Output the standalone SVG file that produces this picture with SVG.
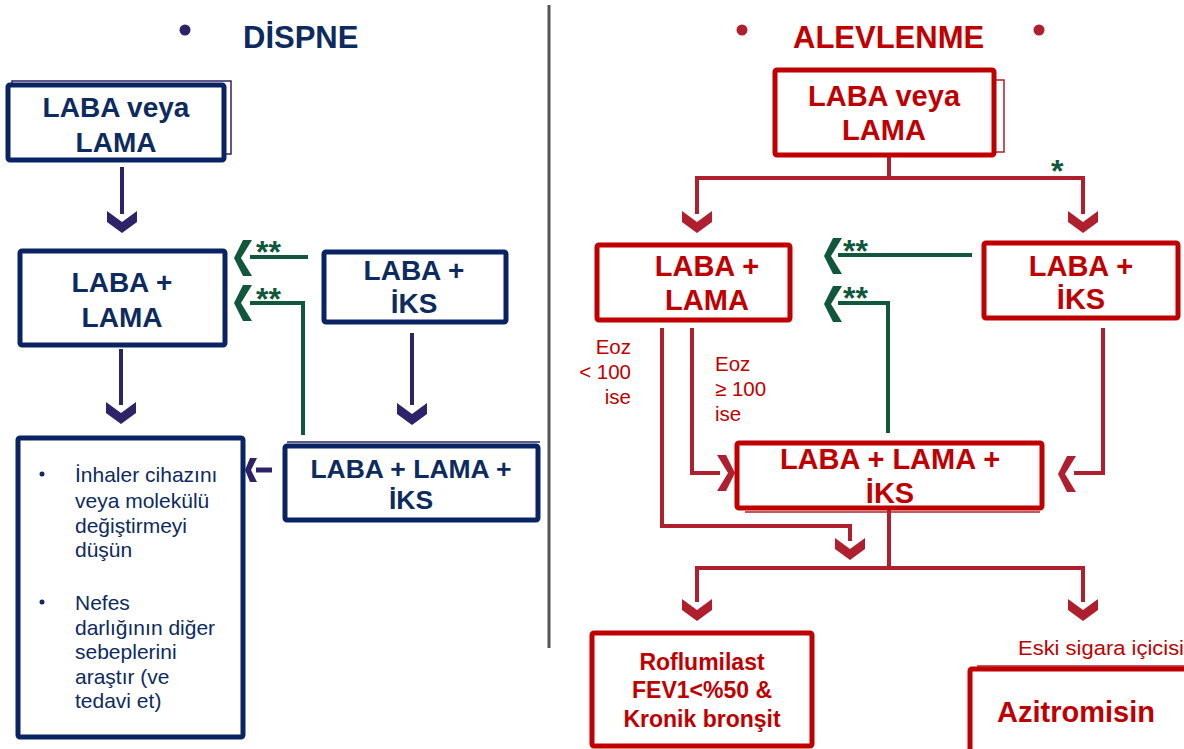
<svg xmlns="http://www.w3.org/2000/svg" width="1184" height="749" viewBox="0 0 1184 749">
<style>
.bx{fill:#fff;stroke:#0a2463;stroke-width:5}
.rbx{fill:#fff;stroke:#c00000;stroke-width:5}
.sh{fill:none;stroke:#2e2268;stroke-width:1.5}
.rsh{fill:none;stroke:#b01f2e;stroke-width:1.5}
.t{font-family:"Liberation Sans",Arial,sans-serif;font-weight:bold;fill:#0d2b5e;text-anchor:middle}
.rt{font-family:"Liberation Sans",Arial,sans-serif;font-weight:bold;fill:#c00000;text-anchor:middle}
.n{font-family:"Liberation Sans",Arial,sans-serif;fill:#0d2b5e;font-size:21px}
.rn{font-family:"Liberation Sans",Arial,sans-serif;fill:#c00000;font-size:20.5px}
.pl{fill:none;stroke:#2e2268;stroke-width:4}
.gl{fill:none;stroke:#11573c;stroke-width:4}
.rl{fill:none;stroke:#b01f2e;stroke-width:4}
.pc{fill:#2e2268}
.gc{fill:#11573c}
.rc{fill:#b01f2e}
.st{font-family:"Liberation Sans",Arial,sans-serif;font-weight:bold;fill:#11573c;font-size:32px}
</style>
<defs>
<path id="dn" d="M-15,-11 L0,0 L15,-11 L15,0 L0,11 L-15,0 Z"/>
<path id="lf" d="M6,-18 L15,-18 L4,0 L15,18 L6,18 L-3,0 Z"/>
<path id="rt" d="M-6,-18 L-15,-18 L-4,0 L-15,18 L-6,18 L3,0 Z"/>
</defs>

<!-- titles -->
<g id="title-left">
<circle cx="185" cy="30" r="5.5" fill="#2e2268"/>
<text x="243" y="48" font-family="Liberation Sans,Arial,sans-serif" font-weight="bold" font-size="31" fill="#0d2b5e">DİSPNE</text>
</g>
<g id="title-right">
<circle cx="742" cy="30" r="5.5" fill="#b01f2e"/>
<circle cx="1039" cy="30" r="5.5" fill="#b01f2e"/>
<text x="793" y="48" font-family="Liberation Sans,Arial,sans-serif" font-weight="bold" font-size="31" fill="#c00000">ALEVLENME</text>
</g>

<line x1="549" y1="5" x2="549" y2="648" stroke="#555" stroke-width="3"/>

<!-- connectors -->
<g id="connectors">
<!-- left -->
<line class="pl" x1="122" y1="167" x2="122" y2="214"/>
<use href="#dn" class="pc" x="122" y="222"/>
<line class="pl" x1="121" y1="349" x2="121" y2="405"/>
<use href="#dn" class="pc" x="121" y="413"/>
<line class="pl" x1="412" y1="333" x2="412" y2="405"/>
<use href="#dn" class="pc" x="412" y="414"/>
<path class="pc" d="M250,458 L257,458 L251,470 L257,482 L250,482 L245,470 Z"/>
<line x1="256" y1="470" x2="272" y2="470" stroke="#2e2268" stroke-width="5"/>
<line class="gl" x1="250" y1="257" x2="308" y2="257"/>
<use href="#lf" class="gc" x="237" y="258"/>
<text class="st" x="256" y="263">**</text>
<polyline class="gl" points="250,303 303,303 303,435"/>
<use href="#lf" class="gc" x="237" y="303"/>
<text class="st" x="256" y="310">**</text>

<!-- right -->
<polyline class="rl" points="889,157 889,178"/>
<polyline class="rl" points="697,214 697,178 1083,178 1083,214"/>
<use href="#dn" class="rc" x="697" y="222"/>
<use href="#dn" class="rc" x="1083" y="222"/>
<text class="st" x="1051" y="182" font-size="28">*</text>
<line class="gl" x1="838" y1="255" x2="972" y2="255"/>
<use href="#lf" class="gc" x="827" y="256"/>
<text class="st" x="843" y="262">**</text>
<polyline class="gl" points="838,303 888,303 888,433"/>
<use href="#lf" class="gc" x="827" y="304"/>
<text class="st" x="843" y="309">**</text>
<polyline class="rl" points="662,328 662,526 850,526 850,541"/>
<use href="#dn" class="rc" x="850" y="549"/>
<polyline class="rl" points="692,328 692,473 720,473"/>
<use href="#rt" class="rc" x="732" y="473"/>
<polyline class="rl" points="1103,328 1103,473 1074,473"/>
<use href="#lf" class="rc" x="1061" y="474"/>
<polyline class="rl" points="889,510 889,568"/>
<polyline class="rl" points="697,602 697,568 1083,568 1083,602"/>
<use href="#dn" class="rc" x="697" y="610"/>
<use href="#dn" class="rc" x="1083" y="610"/>
</g>

<!-- left nodes -->
<g id="l-laba-veya-lama">
<rect class="sh" x="12" y="81" width="219" height="73"/>
<rect class="bx" x="8" y="85" width="216" height="75" rx="2"/>
<text class="t" x="116" y="117" font-size="28">LABA veya</text>
<text class="t" x="116" y="152" font-size="28">LAMA</text>
</g>
<g id="l-laba-lama">
<rect class="bx" x="20" y="251" width="205" height="94" rx="2"/>
<text class="t" x="122" y="292" font-size="28">LABA +</text>
<text class="t" x="122" y="327" font-size="28">LAMA</text>
</g>
<g id="l-laba-iks">
<rect class="bx" x="324" y="252" width="182" height="70" rx="2"/>
<text class="t" x="414" y="280" font-size="28">LABA +</text>
<text class="t" x="414" y="313" font-size="28">İKS</text>
</g>
<g id="l-triple">
<line x1="287" y1="442" x2="540" y2="442" stroke="#2e2268" stroke-width="1.5"/>
<rect class="bx" x="285" y="446" width="253" height="74" rx="2"/>
<text class="t" x="411" y="478" font-size="26.5">LABA + LAMA +</text>
<text class="t" x="411" y="509" font-size="26.5">İKS</text>
</g>
<g id="l-notes">
<rect class="bx" x="18" y="438" width="225" height="299" rx="2"/>
<g class="n">
<circle cx="42" cy="474" r="2.5" fill="#0d2b5e"/>
<text x="75" y="482">İnhaler cihazını</text>
<text x="75" y="508">veya molekülü</text>
<text x="75" y="533">değiştirmeyi</text>
<text x="75" y="557">düşün</text>
<circle cx="42" cy="602" r="2.5" fill="#0d2b5e"/>
<text x="75" y="610">Nefes</text>
<text x="75" y="635">darlığının diğer</text>
<text x="75" y="659">sebeplerini</text>
<text x="75" y="684">araştır (ve</text>
<text x="75" y="708">tedavi et)</text>
</g>
</g>

<!-- right nodes -->
<g id="r-laba-veya-lama">
<rect class="rsh" x="780" y="80" width="224" height="72"/>
<rect class="rbx" x="775" y="70" width="219" height="85" rx="2"/>
<text class="rt" x="884" y="106" font-size="29">LABA veya</text>
<text class="rt" x="884" y="140" font-size="29">LAMA</text>
</g>
<g id="r-laba-lama">
<rect class="rbx" x="597" y="245" width="193" height="75" rx="2"/>
<text class="rt" x="707" y="276" font-size="29">LABA +</text>
<text class="rt" x="707" y="310" font-size="29">LAMA</text>
</g>
<g id="r-laba-iks">
<rect class="rbx" x="984" y="243" width="194" height="75" rx="2"/>
<text class="rt" x="1081" y="276" font-size="29">LABA +</text>
<text class="rt" x="1081" y="309" font-size="29">İKS</text>
</g>
<g id="r-eoz-labels" class="rn">
<text x="631" y="354" text-anchor="end">Eoz</text>
<text x="631" y="379" text-anchor="end">&lt; 100</text>
<text x="631" y="404" text-anchor="end">ise</text>
<text x="715" y="371">Eoz</text>
<text x="715" y="396">≥ 100</text>
<text x="715" y="421">ise</text>
</g>
<g id="r-triple">
<line x1="745" y1="512" x2="1040" y2="512" stroke="#b01f2e" stroke-width="1.5"/>
<rect class="rbx" x="737" y="443" width="305" height="65" rx="2"/>
<text class="rt" x="890" y="469" font-size="29">LABA + LAMA +</text>
<text class="rt" x="890" y="503" font-size="29">İKS</text>
</g>
<g id="r-roflumilast">
<rect class="rbx" x="592" y="633" width="220" height="113" rx="2"/>
<text class="rt" x="702" y="670" font-size="23">Roflumilast</text>
<text class="rt" x="702" y="698" font-size="23">FEV1&lt;%50 &amp;</text>
<text class="rt" x="702" y="727" font-size="23">Kronik bronşit</text>
</g>
<g id="r-azitromisin">
<text class="rn" x="1018" y="655" textLength="166" lengthAdjust="spacingAndGlyphs" font-size="20">Eski sigara içicisi</text>
<line x1="977" y1="666" x2="1184" y2="666" stroke="#b01f2e" stroke-width="1.5"/>
<rect class="rbx" x="970" y="669" width="220" height="84" rx="2"/>
<text class="rt" x="1076" y="722" font-size="29">Azitromisin</text>
</g>
</svg>
